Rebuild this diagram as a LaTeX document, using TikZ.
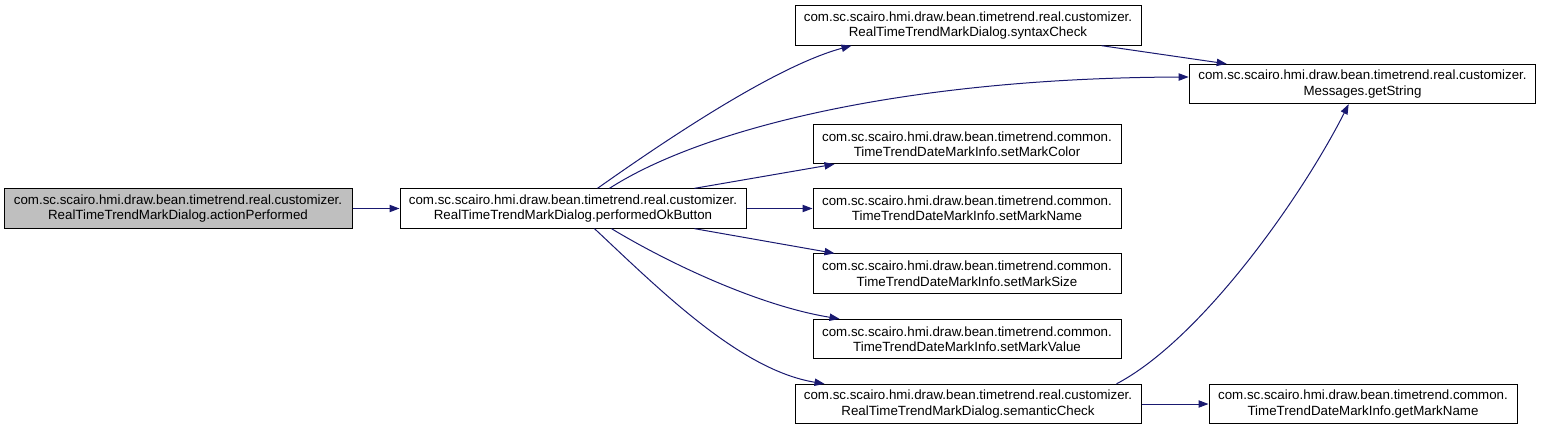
\documentclass[tikz,border=0pt]{standalone}
\usepackage{fontspec}
\setmainfont{Liberation Sans}
\usepackage{xcolor}
\usetikzlibrary{arrows.meta,calc}

\definecolor{callblue}{HTML}{191970}
\definecolor{rootgray}{HTML}{BFBFBF}

\tikzset{
  fn/.style={draw=black, line width=0.75pt, align=center, inner sep=0pt,
    minimum height=29.5pt, font=\fontsize{10}{11.6}\selectfont},
  call/.style={draw=callblue, line width=0.75pt,
    -{Triangle[length=7.5pt,width=5.5pt]}}
}

\begin{document}
\begin{tikzpicture}[x=0.75pt,y=-0.75pt]
  \useasboundingbox (0,0) rectangle (1541,431);
  % caller and the method itself
  \node[fn, fill=rootgray, minimum width=261pt] (act) at (178,208.5)
    {com.sc.scairo.hmi.draw.bean.timetrend.real.customizer.\\RealTimeTrendMarkDialog.actionPerformed};
  \node[fn, minimum width=259.5pt] (ok) at (573,208.5)
    {com.sc.scairo.hmi.draw.bean.timetrend.real.customizer.\\RealTimeTrendMarkDialog.performedOkButton};
  % callees
  \node[fn, minimum width=259.5pt] (syntax) at (968,25.5)
    {com.sc.scairo.hmi.draw.bean.timetrend.real.customizer.\\RealTimeTrendMarkDialog.syntaxCheck};
  \node[fn, minimum width=260pt] (msg) at (1362.5,84)
    {com.sc.scairo.hmi.draw.bean.timetrend.real.customizer.\\Messages.getString};
  \foreach \y/\nm/\meth in {144/color/setMarkColor,208.5/name/setMarkName,273.5/size/setMarkSize,339/value/setMarkValue} {
    \node[fn, minimum width=231pt] (info-\nm) at (967,\y)
      {com.sc.scairo.hmi.draw.bean.timetrend.common.\\TimeTrendDateMarkInfo.\meth};
  }
  \node[fn, minimum width=259.5pt] (semantic) at (968,404)
    {com.sc.scairo.hmi.draw.bean.timetrend.real.customizer.\\RealTimeTrendMarkDialog.semanticCheck};
  \node[fn, minimum width=231pt] (getname) at (1363,404)
    {com.sc.scairo.hmi.draw.bean.timetrend.common.\\TimeTrendDateMarkInfo.getMarkName};

  \draw[call] (act) -- (ok);
  \draw[call] ($(ok.north west)+(198,0)$) .. controls (680,130) and (780,65) .. ($(syntax.south west)+(57,0)$);
  \draw[call] ($(ok.north west)+(210,0)$) .. controls (700,130) and (900,78) .. ($(msg.west)+(0,-7)$);
  \draw[call] ($(syntax.south west)+(307,0)$) -- ($(msg.north west)+(38,0)$);
  \draw[call] ($(ok.north west)+(295,0)$) -- ($(info-color.south west)+(22,0)$);
  \draw[call] (ok) -- (info-name);
  \draw[call] ($(ok.south west)+(295,0)$) -- ($(info-size.north west)+(22,0)$);
  \draw[call] ($(ok.south west)+(212,0)$) .. controls (670,264) and (760,306) .. ($(info-value.north west)+(27,0)$);
  \draw[call] ($(ok.south west)+(195,0)$) .. controls (660,290) and (740,370) .. ($(semantic.north west)+(30,0)$);
  \draw[call] ($(semantic.north west)+(322,0)$) .. controls (1200,340) and (1300,200) .. ($(msg.south west)+(160,0)$);
  \draw[call] (semantic) -- (getname);
\end{tikzpicture}
\end{document}
